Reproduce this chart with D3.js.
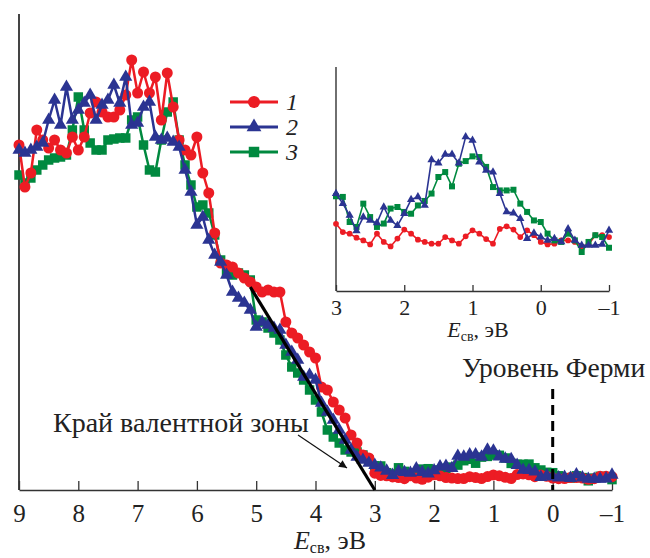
<!DOCTYPE html>
<html><head><meta charset="utf-8">
<script src="https://cdn.jsdelivr.net/npm/d3@7"></script>
<style>
html,body{margin:0;padding:0;background:#fff;}
svg{display:block;font-family:"Liberation Serif","Times New Roman",serif;}
</style></head>
<body>
<svg id="c" width="650" height="558"></svg>
<script>
// ---- data ----
const xTicks = [9, 8, 7, 6, 5, 4, 3, 2, 1, 0, -1];
const insetTicks = [3, 2, 1, 0, -1];
const seriesNames = ["1", "2", "3"];
const seriesColors = ["#ec1c24", "#2b3492", "#00893f"];
// main spectrum energies: 9.0 → -1.0 eV, step 0.1
const mainE = d3.range(0, 101).map(i => +(9 - i * 0.1).toFixed(1));
const red = [345,303,317,360,350,342,350,340,337,353, 340,353,377,388,378,373,373,380,395,430,
  397,418,397,413,370,417,383,350,340,335, 353,317,297,257,227,225,223,217,212,208,
  203,198,200,198,198,168,157,152,145,138, 132,103,100,88,80,72,55,47,35,32,
  16.8,14.6,14.2,13.1,12.4,11.3,14.2,11.9,10.7,12.8, 15.2,14.2,12.5,11.9,11.5,11.5,13.3,12.4,11.5,13.4,
  15.1,14.2,12.7,11.5,15.4,16.1,15.2,13.3,15.1,13.7, 11.9,11.3,11.5,12.4,12.4,11.9,10.7,11.3,13.7,13.7,13.3];
const blue = [340,337,340,343,347,370,390,365,403,370, 380,387,395,370,385,390,405,387,413,365,
  367,383,388,353,350,352,348,343,320,298, 265,273,250,235,228,215,198,192,187,180,
  163,168,165,162,160,145,138,130,113,115, 110,87,78,70,60,50,40,33,30,27,
  24.9,22.2,19.1,14.9,18.6,17.7,17.0,21.3,17.7,16.3, 19.5,23.3,24.0,21.7,34.0,33.1,35.4,35.4,33.1,40.1,
  39.2,33.4,31.1,30.7,24.9,20.0,19.7,18.2,12.8,14.3, 13.3,12.4,12.8,11.9,15.5,12.4,11.0,11.0,11.0,11.3,15.1];
const green = [315,307,312,320,325,330,332,333,335,360, 393,360,347,340,340,350,351,352,352,370,
  373,345,320,318,350,378,388,350,325,305, 283,285,277,255,230,218,215,217,215,210,
  170,168,162,157,150,135,123,117,110,100, 90,78,60,53,47,40,38,38,35,30,
  24.2,24.0,17.3,16.0,22.2,18.6,16.0,16.9,20.9,21.3, 20.0,19.5,21.7,22.9,24.9,29.3,30.7,26.8,32.9,33.6,
  34.9,34.7,32.0,26.6,25.7,25.7,25.9,22.2,20.0,17.7, 17.3,14.2,12.4,11.9,14.2,12.4,9.2,11.9,13.7,13.3,10.4];
// inset spectrum energies: 3.0 → -1.0 eV, step 0.1
const insetE = d3.range(0, 41).map(i => +(3 - i * 0.1).toFixed(1));
const insetRed = [30,26.3,25.6,23.8,22.6,20.8,25.6,21.9,19.9,23.4, 27.4,25.6,22.9,21.9,21.1,21.1,24.1,22.6,21.1,24.4,
  27.1,25.6,23.2,21.1,27.7,28.9,27.4,24.1,27.1,24.9, 21.9,20.8,21.1,22.6,22.6,21.9,19.9,20.8,24.9,24.9,24.1];
const insetBlue = [43.5,39,33.8,26.8,33,31.5,30.4,37.5,31.5,29.2, 34.5,40.8,42,38.2,58.6,57.1,61,61,57.1,68.8,
  67.3,57.6,53.9,53.1,43.5,35.3,34.8,32.3,23.4,25.9, 24.1,22.6,23.4,21.9,27.8,22.6,20.4,20.4,20.4,20.8,27.1];
const insetGreen = [42.3,42,30.8,28.6,39,33,28.6,30.1,36.8,37.5, 35.3,34.5,38.2,40.2,43.5,50.9,53.1,46.7,56.8,58,
  60.1,59.8,55.4,46.4,44.9,44.9,45.2,39,35.3,31.5, 30.8,25.6,22.6,21.9,25.6,22.6,17.4,21.9,24.9,24.1,19.3];
// valence band edge tangent (E, intensity)
const edgeE = [5.1, 3.0];
const edgeV = [203, 0];
const fermiE = 0;

// ---- drawing ----
const svg = d3.select("#c");
const x = d3.scaleLinear().domain([9, -1]).range([19, 612]);
const y = d3.scaleLinear().domain([0, 476]).range([490, 14]);
const ix = d3.scaleLinear().domain([3, -1]).range([336, 609]);
const iy = d3.scaleLinear().domain([0, 100]).range([291, 67]);

const fmt = d => d < 0 ? "–" + Math.abs(d) : String(d);
const symbols = [d3.symbolCircle, d3.symbolTriangle, d3.symbolSquare];
const mainSizes = [95, 75, 90];
const insetSizes = [26, 30, 36];

// main axes
svg.append("line").attr("x1", x(9)).attr("x2", x(9)).attr("y1", 14).attr("y2", y(0))
  .attr("stroke", "#444").attr("stroke-width", 2);
const gx = svg.append("g").attr("transform", `translate(0,${y(0)})`)
  .call(d3.axisBottom(x).tickValues(xTicks).tickSize(-9).tickSizeOuter(0).tickPadding(14).tickFormat(fmt));
gx.select(".domain").attr("stroke", "#333").attr("stroke-width", 1.6);
gx.selectAll(".tick line").attr("stroke", "#333").attr("stroke-width", 1.3);
gx.selectAll(".tick text").attr("font-size", 25).attr("font-family", "Liberation Serif").attr("fill", "#222");

const mainTitle = svg.append("text").attr("x", 330).attr("y", 549).attr("text-anchor", "middle")
  .attr("font-size", 26).attr("fill", "#222");
mainTitle.append("tspan").attr("font-style", "italic").text("E");
mainTitle.append("tspan").attr("font-size", 16).attr("dy", 4).text("св");
mainTitle.append("tspan").attr("dy", -4).text(", эВ");

// inset axes
svg.append("line").attr("x1", ix(3)).attr("x2", ix(3)).attr("y1", iy(100)).attr("y2", iy(0))
  .attr("stroke", "#333").attr("stroke-width", 1.4);
const igx = svg.append("g").attr("transform", `translate(0,${iy(0)})`)
  .call(d3.axisBottom(ix).tickValues(insetTicks).tickSize(-6).tickSizeOuter(0).tickPadding(8).tickFormat(fmt));
igx.select(".domain").attr("stroke", "#333").attr("stroke-width", 1.4);
igx.selectAll(".tick line").attr("stroke", "#333").attr("stroke-width", 1.3);
igx.selectAll(".tick text").attr("font-size", 22).attr("font-family", "Liberation Serif").attr("fill", "#222");
const insetTitle = svg.append("text").attr("x", 478).attr("y", 337).attr("text-anchor", "middle")
  .attr("font-size", 22).attr("fill", "#222");
insetTitle.append("tspan").attr("font-style", "italic").text("E");
insetTitle.append("tspan").attr("font-size", 14).attr("dy", 4).text("св");
insetTitle.append("tspan").attr("dy", -4).text(", эВ");

// series drawing
function drawSeries(g, E, vals, xs, ys, i, lw, size) {
  const pts = E.map((e, k) => [xs(e), ys(vals[k])]);
  g.append("path").attr("d", d3.line()(pts)).attr("fill", "none")
    .attr("stroke", seriesColors[i]).attr("stroke-width", lw).attr("stroke-linejoin", "round");
  g.selectAll(null).data(pts).join("path")
    .attr("transform", p => `translate(${p[0]},${p[1]})`)
    .attr("d", d3.symbol().type(symbols[i]).size(size))
    .attr("fill", seriesColors[i]);
}
const mainG = svg.append("g");
const mainData = [red, blue, green];
[2, 0, 1].forEach(i => drawSeries(mainG, mainE, mainData[i], x, y, i, 2.5, mainSizes[i]));

const insetG = svg.append("g");
const insetData = [insetRed, insetBlue, insetGreen];
[0, 2, 1].forEach(i => drawSeries(insetG, insetE, insetData[i], ix, iy, i, 1.6, insetSizes[i]));

// valence edge line
svg.append("line").attr("x1", x(edgeE[0])).attr("y1", y(edgeV[0])).attr("x2", x(edgeE[1])).attr("y2", y(edgeV[1]))
  .attr("stroke", "#000").attr("stroke-width", 3.2);

// Fermi level
svg.append("line").attr("x1", x(fermiE)).attr("x2", x(fermiE)).attr("y1", 389).attr("y2", y(0))
  .attr("stroke", "#000").attr("stroke-width", 3).attr("stroke-dasharray", "10,6");
svg.append("text").attr("x", 462).attr("y", 377).attr("font-size", 27.5).attr("fill", "#222").text("Уровень Ферми");

// valence edge annotation
svg.append("defs").append("marker").attr("id", "ah").attr("viewBox", "0 0 10 10")
  .attr("refX", 10).attr("refY", 5).attr("markerWidth", 10).attr("markerHeight", 8)
  .attr("markerUnits", "userSpaceOnUse").attr("orient", "auto")
  .append("path").attr("d", "M0,0 L10,5 L0,10 z").attr("fill", "#111");
svg.append("line").attr("x1", 298).attr("y1", 435).attr("x2", 347).attr("y2", 468)
  .attr("stroke", "#111").attr("stroke-width", 1.2).attr("marker-end", "url(#ah)");
svg.append("text").attr("x", 53).attr("y", 432).attr("font-size", 28).attr("fill", "#222").text("Край валентной зоны");

// legend
const legY = [102, 127, 152];
seriesNames.forEach((n, i) => {
  svg.append("line").attr("x1", 230).attr("x2", 278).attr("y1", legY[i]).attr("y2", legY[i])
    .attr("stroke", seriesColors[i]).attr("stroke-width", 3);
  svg.append("path").attr("transform", `translate(254,${legY[i]})`)
    .attr("d", d3.symbol().type(symbols[i]).size(mainSizes[i] + 20)).attr("fill", seriesColors[i]);
  svg.append("text").attr("x", 286).attr("y", legY[i] + 8).attr("font-size", 24)
    .attr("font-style", "italic").attr("fill", "#222").text(n);
});
</script>
</body></html>
